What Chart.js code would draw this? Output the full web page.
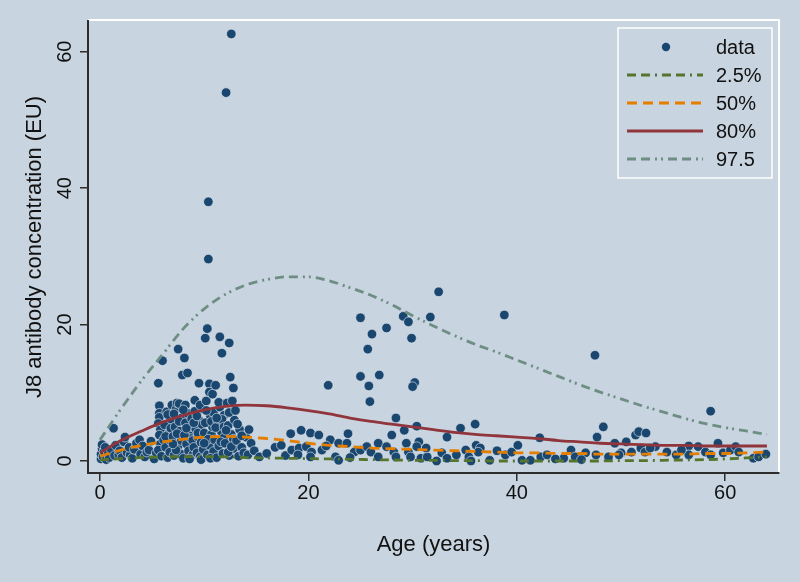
<!DOCTYPE html>
<html>
<head>
<meta charset="utf-8">
<script src="https://cdn.jsdelivr.net/npm/chart.js@4.4.1/dist/chart.umd.min.js"></script>
<style>
  html, body { margin: 0; padding: 0; background: #c8d4df; }
  #wrap { width: 800px; height: 582px; }
</style>
</head>
<body>
<div id="wrap"><canvas id="chart" width="800" height="582"></canvas></div>
<script>
// observed J8 titres: [age in years, concentration in EU]
const samples = [
  [0.1,0.3],[0.1,1.0],[0.2,1.8],[0.2,2.4],[0.3,0.6],[0.4,1.4],[0.5,2.0],[0.6,0.2],[0.8,1.1],[0.9,0.5],
  [1.1,1.6],[1.3,4.8],[1.4,0.8],[1.5,2.3],[1.8,0.9],[1.9,1.5],
  [2.1,0.5],[2.3,2.8],[2.4,3.5],[2.6,1.2],[2.9,0.9],[2.8,2.0],
  [3.1,0.4],[3.3,1.7],[3.5,2.6],[3.8,3.1],[3.9,1.0],
  [4.1,2.2],[4.3,0.6],[4.5,1.3],[4.7,1.6],[4.9,2.9],
  [5.2,0.3],[5.4,1.2],[5.6,11.4],[5.7,8.1],[5.7,7.0],[5.7,6.4],[5.6,5.5],[5.8,4.6],[5.7,3.8],[5.8,2.5],[5.6,1.6],[5.9,0.7],[6.0,14.7],[6.1,3.1],
  [6.2,5.3],[6.3,2.0],[6.4,7.2],[6.5,0.5],[6.6,4.0],[6.7,1.3],[6.9,8.2],[6.9,6.0],[6.8,2.9],[6.3,3.6],[6.8,4.8],[6.5,6.8],
  [7.0,3.6],[7.1,0.8],[7.2,5.0],[7.3,7.6],[7.4,8.5],[7.5,16.4],[7.6,8.4],[7.5,2.2],[7.7,4.4],[7.8,1.0],[7.9,12.6],[7.9,6.4],[7.8,3.0],[7.3,1.6],[7.6,5.8],[7.1,6.9],[7.0,2.5],[7.4,4.0],
  [8.0,0.4],[8.1,15.1],[8.2,8.2],[8.2,5.6],[8.3,2.5],[8.4,12.9],[8.4,7.0],[8.5,1.5],[8.6,4.2],[8.7,3.3],[8.8,6.2],[8.9,0.9],[8.9,5.0],[8.1,3.8],[8.6,0.3],[8.0,7.5],[8.3,4.8],[8.9,3.0],
  [9.0,2.0],[9.1,8.9],[9.1,7.3],[9.2,4.7],[9.3,1.2],[9.4,3.5],[9.5,11.4],[9.5,6.0],[9.6,0.6],[9.7,2.7],[9.8,5.3],[9.9,1.7],[9.9,7.6],[9.0,5.6],[9.4,4.1],[9.7,0.2],[9.3,6.6],[9.6,8.2],
  [10.0,4.1],[10.1,18.0],[10.2,8.8],[10.3,19.4],[10.3,0.9],[10.4,38.0],[10.4,29.6],[10.5,11.3],[10.5,10.1],[10.5,2.3],[10.6,6.5],[10.7,3.9],[10.8,9.8],[10.8,5.0],[10.9,1.4],[10.9,7.1],[10.1,5.6],[10.4,3.2],[10.6,0.4],[10.2,7.4],[10.0,2.6],[10.7,5.8],
  [11.1,11.1],[11.0,3.1],[11.2,0.5],[11.3,5.8],[11.4,2.2],[11.5,18.2],[11.5,7.9],[11.6,4.4],[11.7,15.8],[11.8,1.1],[11.9,3.4],[11.9,6.7],[11.1,4.9],[11.6,2.8],[11.7,6.1],[11.2,6.3],[11.4,8.6],[11.9,5.0],
  [12.1,54.0],[12.0,2.6],[12.2,8.5],[12.3,5.2],[12.4,17.3],[12.4,0.8],[12.5,12.3],[12.6,62.6],[12.6,3.9],[12.7,8.8],[12.8,10.7],[12.8,1.8],[12.9,6.0],[12.1,4.5],[12.3,1.3],[12.8,3.2],[12.4,7.1],[12.6,2.1],
  [13.1,3.0],[13.3,0.7],[13.4,4.6],[13.6,2.0],[13.8,1.2],[14.0,3.5],[14.2,0.9],[14.5,2.6],[14.8,1.5],[13.2,5.4],[13.6,3.7],[14.3,4.6],[13.0,7.4],
  [15.3,0.6],[16.0,1.1],[16.8,2.0],[17.4,2.3],[17.8,0.8],
  [18.3,4.0],[19.3,4.5],[20.2,4.1],[21.0,3.8],[18.4,1.6],[19.1,1.9],[19.8,2.1],[20.3,1.3],[21.3,1.6],[22.1,3.1],[22.9,2.6],[20.2,0.6],[22.6,0.6],[22.9,0.1],
  [23.7,2.6],[24.4,1.3],[25.0,1.6],[25.6,2.1],[26.0,1.3],[26.7,2.6],[26.7,0.6],[27.5,2.1],[23.8,4.0],[21.9,11.1],[25.8,11.0],[25.9,8.7],[19.0,0.9],[21.7,2.2],[24.0,0.5],
  [25.0,21.0],[29.1,21.2],[29.6,20.4],[31.7,21.1],[26.1,18.6],[27.5,19.5],[25.7,16.4],[29.9,18.0],[25.0,12.4],[26.8,12.6],[30.2,11.5],[30.0,10.9],[32.5,24.8],[38.8,21.4],[47.5,15.5],
  [28.4,6.3],[30.4,5.1],[28.0,3.8],[29.2,4.5],[34.6,4.8],[36.0,5.4],[33.3,3.5],[29.4,2.6],[30.6,2.8],[30.4,2.1],[28.2,1.3],[28.4,0.6],[29.6,1.3],[29.8,0.6],[30.8,0.4],[31.4,0.6],
  [32.3,0.0],[32.8,1.2],[33.3,0.4],[35.1,1.6],[35.4,0.6],[35.6,0.0],[36.1,2.3],[36.5,1.9],[36.3,1.3],[37.4,0.1],[38.1,1.5],[38.9,0.9],[39.5,1.3],[31.3,1.9],[34.2,0.9],
  [40.1,2.3],[40.5,0.1],[41.3,0.1],[42.3,0.6],[42.9,0.9],[42.2,3.4],[45.2,1.6],[44.5,0.4],[45.6,0.6],[46.6,1.2],[47.6,0.9],[47.7,3.5],[48.3,5.0],[49.4,2.6],[50.5,2.8],
  [51.4,3.8],[51.7,4.3],[52.4,4.1],[50.0,1.2],[51.0,1.3],[51.9,1.9],[52.3,1.3],[48.8,0.6],[49.8,0.9],[58.6,7.3],[53.3,2.1],[54.4,1.3],[55.3,0.9],[56.5,2.2],[56.5,0.9],
  [57.4,2.1],[58.1,1.3],[58.6,0.9],[59.3,2.6],[59.8,1.2],[60.5,1.6],[61.0,2.1],[61.3,1.3],[62.7,0.4],[63.2,0.6],[63.9,1.0],[55.8,1.6],[52.8,1.9],[43.7,0.3],[46.2,0.2]
]

// fitted centile curves, sampled every 2 years
const curveAge = [0,2,4,6,8,10,12,14,16,18,20,22,24,26,28,30,32,34,36,38,40,42,44,46,48,50,52,54,56,58,60,62,64]
const p025 = [0.15,0.35,0.5,0.6,0.65,0.65,0.6,0.5,0.45,0.4,0.35,0.3,0.25,0.2,0.15,0.1,0.1,0.05,0.05,0,0,0,0,0,0,0.05,0.05,0.1,0.15,0.2,0.3,0.45,0.6]
const p50 = [0.7,1.6,2.3,2.8,3.2,3.5,3.6,3.5,3.3,3.0,2.6,2.3,2.1,1.9,1.8,1.7,1.6,1.5,1.4,1.3,1.2,1.2,1.1,1.1,1.0,1.0,1.0,1.0,1.0,1.1,1.1,1.2,1.3]
const p80 = [1.2,3.0,4.4,5.7,6.7,7.5,8.0,8.2,8.1,7.8,7.4,6.9,6.3,5.8,5.4,5.0,4.6,4.2,3.9,3.7,3.5,3.3,3.0,2.8,2.6,2.5,2.4,2.3,2.3,2.2,2.2,2.2,2.2]
const p975 = [3.1,7.6,11.8,15.6,19.4,22.3,24.4,25.8,26.6,27.0,27.0,26.4,25.4,24.3,22.9,21.3,19.8,18.4,17.1,16.0,14.8,13.6,12.4,11.2,10.1,9.1,8.1,7.2,6.3,5.5,4.9,4.4,3.9]

const xTicks = [0, 20, 40, 60]
const yTicks = [0, 20, 40, 60]

const BG = '#c8d4df'
const AXIS = '#2d2d2d'
const FONT = 'Liberation Sans, Arial, sans-serif'

const curve = (vals) => curveAge.map((a, i) => ({ x: a, y: vals[i] }))

function lineSet(label, vals, color, dash, order) {
  return {
    type: 'scatter', label, data: curve(vals), showLine: true,
    borderColor: color, borderWidth: 2.8, borderDash: dash,
    pointRadius: 0, cubicInterpolationMode: 'monotone', order
  }
}

const datasets = [
  {
    label: 'data', data: samples.map(p => ({ x: p[0], y: p[1] })),
    backgroundColor: '#1a476f', borderColor: 'rgba(225,232,240,0.8)', borderWidth: 0.8,
    pointRadius: 4.8, order: 10
  },
  lineSet('2.5%', p025, '#55752f', [9, 5, 9, 5, 2, 5], 4),
  lineSet('50%', p50, '#e37e00', [10, 6], 3),
  lineSet('80%', p80, '#90353b', [], 2),
  lineSet('97.5', p975, '#6e8e84', [9, 5, 9, 5, 2, 4, 2, 5], 1)
]

// background + white frame on top and right of plot region
const framePlugin = {
  id: 'frame',
  beforeDraw(chart) {
    const { ctx, width, height, chartArea: a } = chart
    ctx.save()
    ctx.fillStyle = BG
    ctx.fillRect(0, 0, width, height)
    ctx.strokeStyle = '#ffffff'
    ctx.lineWidth = 2
    ctx.beginPath()
    ctx.moveTo(a.left, a.top - 1)
    ctx.lineTo(a.right, a.top - 1)
    ctx.lineTo(a.right, a.bottom + 1)
    ctx.stroke()
    ctx.restore()
  }
}

// vertical y tick labels (Stata style)
const yLabelPlugin = {
  id: 'ylabels',
  afterDraw(chart) {
    const { ctx } = chart
    const y = chart.scales.y
    ctx.save()
    ctx.fillStyle = '#111'
    ctx.font = '20px ' + FONT
    ctx.textAlign = 'center'
    ctx.textBaseline = 'middle'
    yTicks.forEach(v => {
      ctx.save()
      ctx.translate(65, y.getPixelForValue(v))
      ctx.rotate(-Math.PI / 2)
      ctx.fillText(String(v), 0, 0)
      ctx.restore()
    })
    ctx.restore()
  }
}

// legend box inside the plot
const legendPlugin = {
  id: 'boxLegend',
  afterDraw(chart) {
    const { ctx } = chart
    const box = { x: 618, y: 28, w: 154, h: 150 }
    ctx.save()
    ctx.strokeStyle = '#ffffff'
    ctx.lineWidth = 1.5
    ctx.strokeRect(box.x, box.y, box.w, box.h)
    ctx.font = '20px ' + FONT
    ctx.textBaseline = 'middle'
    chart.data.datasets.forEach((ds, i) => {
      const cy = 47 + i * 28
      if (i === 0) {
        ctx.beginPath()
        ctx.arc(666, cy, 4.2, 0, Math.PI * 2)
        ctx.fillStyle = ds.backgroundColor
        ctx.fill()
      } else {
        ctx.beginPath()
        ctx.setLineDash(ds.borderDash)
        ctx.strokeStyle = ds.borderColor
        ctx.lineWidth = ds.borderWidth
        ctx.moveTo(627, cy)
        ctx.lineTo(703, cy)
        ctx.stroke()
        ctx.setLineDash([])
      }
      ctx.fillStyle = '#111'
      ctx.fillText(ds.label, 716, cy + 1)
    })
    ctx.restore()
  }
}

const axisGrid = { display: true, drawOnChartArea: false, drawTicks: true, tickLength: 8, color: AXIS, lineWidth: 1.5 }

new Chart(document.getElementById('chart'), {
  type: 'scatter',
  data: { datasets },
  options: {
    responsive: false,
    animation: false,
    layout: { padding: { top: 21, right: 21, left: 0, bottom: 0 } },
    plugins: { legend: { display: false }, tooltip: { enabled: false } },
    scales: {
      x: {
        type: 'linear', min: -1.15, max: 65.16,
        afterBuildTicks: s => { s.ticks = xTicks.map(v => ({ value: v })) },
        afterFit: s => { s.height = 109 },
        grid: axisGrid,
        border: { display: true, color: AXIS, width: 2 },
        ticks: { font: { family: FONT, size: 20 }, color: '#111', padding: 0, maxRotation: 0 },
        title: { display: true, text: 'Age (years)', font: { family: FONT, size: 22 }, color: '#111', padding: { top: 0, bottom: 24 } }
      },
      y: {
        type: 'linear', min: -1.76, max: 64.5,
        afterBuildTicks: s => { s.ticks = yTicks.map(v => ({ value: v })) },
        afterFit: s => { s.width = 88 },
        grid: axisGrid,
        border: { display: true, color: AXIS, width: 2 },
        ticks: { display: false },
        title: { display: true, text: 'J8 antibody concentration (EU)', font: { family: FONT, size: 22 }, color: '#111', padding: { top: 22, bottom: 0 } }
      }
    }
  },
  plugins: [framePlugin, yLabelPlugin, legendPlugin]
})
</script>
</body>
</html>
